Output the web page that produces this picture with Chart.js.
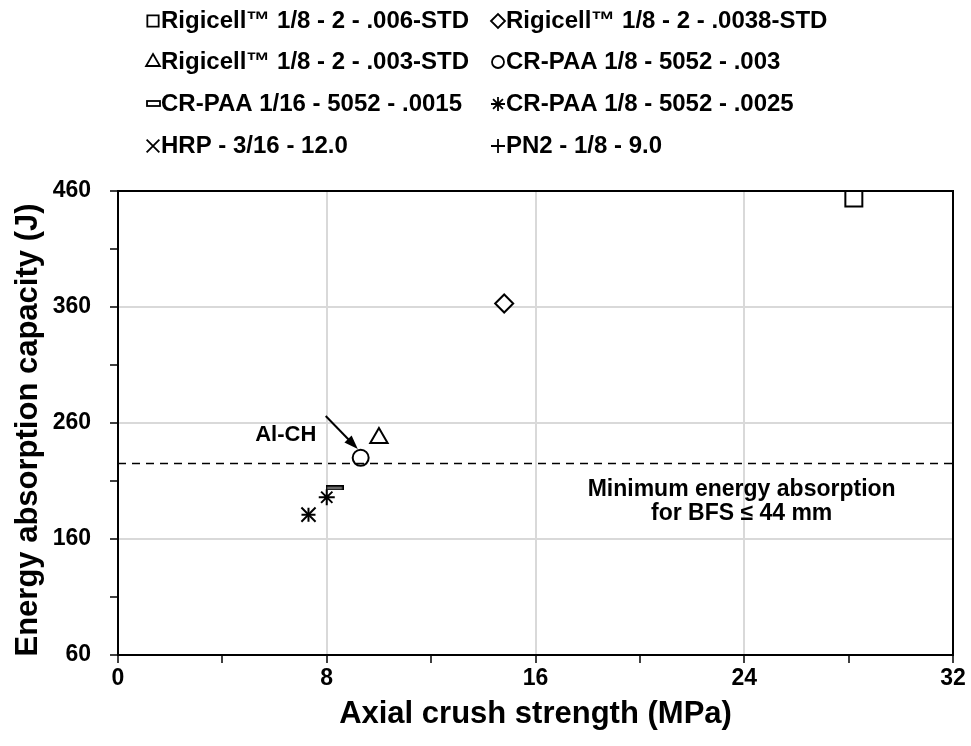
<!DOCTYPE html>
<html>
<head>
<meta charset="utf-8">
<script src="https://cdn.jsdelivr.net/npm/chart.js@4.4.0/dist/chart.umd.min.js"></script>
<style>
  html, body { margin: 0; padding: 0; background: #fff; }
</style>
</head>
<body>
<canvas id="energyChart" width="971" height="746"></canvas>
<script>
// Honeycomb cores: axial crush strength (MPa) vs energy absorption capacity (J)
const seriesNames = [
    'Rigicell™ 1/8 - 2 - .006-STD',
    'Rigicell™ 1/8 - 2 - .0038-STD',
    'Rigicell™ 1/8 - 2 - .003-STD',
    'CR-PAA 1/8 - 5052 - .003',
    'CR-PAA 1/16 - 5052 - .0015',
    'CR-PAA 1/8 - 5052 - .0025',
    'HRP - 3/16 - 12.0',
    'PN2 - 1/8 - 9.0'
];
const crushStrength = [28.2, 14.8, 10.0, 9.3, 8.3, 8.0, 7.3, 7.3];
const energyAbsorbed = [454, 363, 247, 230, 204, 196, 181, 181];
const xTicks = [0, 8, 16, 24, 32];
const yTicks = [60, 160, 260, 360, 460];
const minEnergy = 225;   // dashed threshold line

const FONT = '"Liberation Sans", Arial, sans-serif';

// little gray bar used as the marker for the 1/16 core
function makeDashMarker(w, h) {
    const c = document.createElement('canvas');
    c.width = w; c.height = h;
    const g = c.getContext('2d');
    g.fillStyle = '#8c8c8c';
    g.fillRect(0, 0, w, h);
    g.strokeStyle = '#000';
    g.lineWidth = 1.5;
    g.strokeRect(0.75, 0.75, w - 1.5, h - 1.5);
    return c;
}

const markerStyles = ['rect', 'rectRot', 'triangle', 'circle', makeDashMarker(18, 5), 'star', 'crossRot', 'cross'];
const markerSizes = [12, 9, 10, 8, 9, 8, 10, 7];

const datasets = seriesNames.map((name, i) => ({
    label: name,
    data: [{ x: crushStrength[i], y: energyAbsorbed[i] }],
    pointStyle: markerStyles[i],
    pointRadius: markerSizes[i],
    pointHoverRadius: markerSizes[i],
    pointBackgroundColor: '#fff',
    pointBorderColor: '#000',
    pointBorderWidth: 2
}));

datasets.unshift({
    type: 'line',
    label: 'min',
    data: [{ x: xTicks[0], y: minEnergy }, { x: xTicks[xTicks.length - 1], y: minEnergy }],
    borderColor: '#000',
    borderWidth: 1.5,
    borderDash: [8, 6],
    pointRadius: 0,
    fill: false
});

// legend drawn as two columns of four rows
const legendPlugin = {
    id: 'colLegend',
    afterDraw(chart) {
        const ctx = chart.ctx;
        ctx.save();
        ctx.font = 'bold 24px ' + FONT;
        ctx.fillStyle = '#000';
        ctx.textBaseline = 'middle';
        ctx.textAlign = 'left';
        const colX = [153, 498];
        const rowY = [21, 62, 104, 146];
        const legendSizes = [8, 7, 8, 6, 0, 7, 9, 7];
        seriesNames.forEach((name, i) => {
            const cx = colX[i % 2];
            const cy = rowY[Math.floor(i / 2)];
            ctx.strokeStyle = '#000';
            ctx.lineWidth = 1.8;
            if (i === 4) {
                ctx.fillStyle = '#fff';
                ctx.fillRect(cx - 6, cy - 3, 13, 5);
                ctx.strokeRect(cx - 6, cy - 3, 13, 5);
            } else {
                ctx.fillStyle = '#fff';
                Chart.helpers.drawPoint(ctx, {
                    pointStyle: markerStyles[i], radius: legendSizes[i], rotation: 0, borderWidth: 1.8
                }, cx, cy);
            }
            ctx.fillStyle = '#000';
            ctx.fillText(name, cx + 8, cy);
        });
        ctx.restore();
    }
};

// frame, axis titles and annotations
const extrasPlugin = {
    id: 'extras',
    afterDraw(chart) {
        const { ctx, chartArea: a, scales: { x, y } } = chart;
        ctx.save();
        ctx.strokeStyle = '#000';
        ctx.lineWidth = 2;
        ctx.beginPath();
        ctx.moveTo(a.left, a.top);
        ctx.lineTo(a.right, a.top);
        ctx.lineTo(a.right, a.bottom);
        ctx.stroke();

        ctx.fillStyle = '#000';
        ctx.textAlign = 'center';
        ctx.textBaseline = 'middle';
        ctx.font = 'bold 31px ' + FONT;
        ctx.fillText('Axial crush strength (MPa)', (a.left + a.right) / 2, 714);
        ctx.save();
        ctx.translate(28, 430);
        ctx.rotate(-Math.PI / 2);
        ctx.fillText('Energy absorption capacity (J)', 0, 0);
        ctx.restore();

        ctx.font = 'bold 22px ' + FONT;
        ctx.fillText('Al-CH', x.getPixelForValue(6.43), y.getPixelForValue(250));

        ctx.font = 'bold 23px ' + FONT;
        ctx.fillText('Minimum energy absorption', x.getPixelForValue(23.9), y.getPixelForValue(202.5));
        ctx.fillText('for BFS \u2264 44 mm', x.getPixelForValue(23.9), y.getPixelForValue(181.5));

        // arrow pointing at the Al-CH point
        const x0 = x.getPixelForValue(7.96), y0 = y.getPixelForValue(266);
        const x1 = x.getPixelForValue(9.19), y1 = y.getPixelForValue(237.6);
        const ang = Math.atan2(y1 - y0, x1 - x0);
        ctx.lineWidth = 2;
        ctx.beginPath();
        ctx.moveTo(x0, y0);
        ctx.lineTo(x1 - 8 * Math.cos(ang), y1 - 8 * Math.sin(ang));
        ctx.stroke();
        ctx.beginPath();
        ctx.moveTo(x1, y1);
        ctx.lineTo(x1 - 14 * Math.cos(ang) + 5 * Math.sin(ang), y1 - 14 * Math.sin(ang) - 5 * Math.cos(ang));
        ctx.lineTo(x1 - 14 * Math.cos(ang) - 5 * Math.sin(ang), y1 - 14 * Math.sin(ang) + 5 * Math.cos(ang));
        ctx.closePath();
        ctx.fill();
        ctx.restore();
    }
};

const gridGray = '#d9d9d9';

new Chart(document.getElementById('energyChart'), {
    type: 'scatter',
    data: { datasets: datasets },
    options: {
        responsive: false,
        animation: false,
        devicePixelRatio: 1,
        layout: { padding: { top: 191, right: 18, left: 0, bottom: 0 } },
        plugins: {
            legend: { display: false },
            tooltip: { enabled: false }
        },
        scales: {
            x: {
                type: 'linear',
                min: xTicks[0],
                max: xTicks[xTicks.length - 1],
                afterFit: s => { s.height = 91; },
                ticks: {
                    stepSize: 4,
                    autoSkip: false,
                    maxRotation: 0,
                    padding: 2,
                    color: '#000',
                    font: { family: FONT, size: 23, weight: 'bold' },
                    callback: v => xTicks.includes(v) ? v : ''
                },
                grid: {
                    color: c => (c.tick && xTicks.includes(c.tick.value) && c.tick.value > xTicks[0] && c.tick.value < xTicks[xTicks.length - 1]) ? gridGray : 'rgba(0,0,0,0)',
                    lineWidth: 2,
                    tickColor: '#000',
                    tickLength: 8,
                    tickWidth: 1.5
                },
                border: { color: '#000', width: 2 }
            },
            y: {
                type: 'linear',
                min: yTicks[0],
                max: yTicks[yTicks.length - 1],
                afterFit: s => { s.width = 118; },
                ticks: {
                    stepSize: 50,
                    autoSkip: false,
                    padding: 19,
                    color: '#000',
                    font: { family: FONT, size: 23, weight: 'bold' },
                    callback: v => yTicks.includes(v) ? v : ''
                },
                grid: {
                    color: c => (c.tick && yTicks.includes(c.tick.value) && c.tick.value > yTicks[0] && c.tick.value < yTicks[yTicks.length - 1]) ? gridGray : 'rgba(0,0,0,0)',
                    lineWidth: 2,
                    tickColor: '#000',
                    tickLength: 8,
                    tickWidth: 1.5
                },
                border: { color: '#000', width: 2 }
            }
        }
    },
    plugins: [legendPlugin, extrasPlugin]
});
</script>
</body>
</html>
